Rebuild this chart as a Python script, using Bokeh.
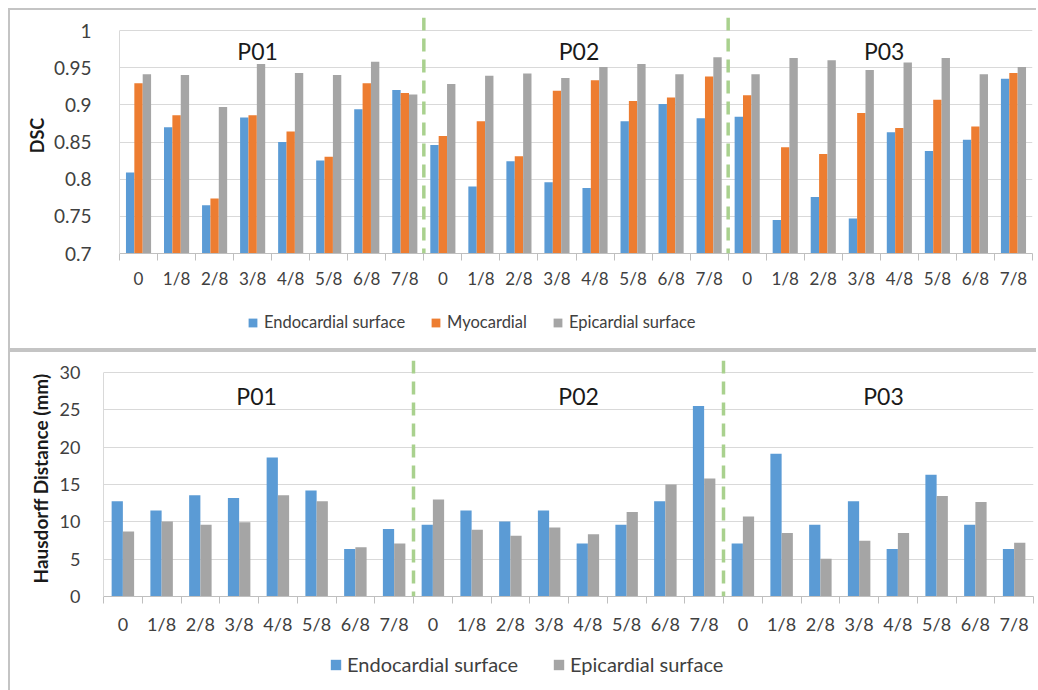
from bokeh.plotting import figure
from bokeh.models import Range1d, FixedTicker, Legend, LegendItem, Span
from bokeh.core.properties import value
from bokeh.embed import file_html
from bokeh.resources import INLINE

FONT = "Lato"
BLUE, ORANGE, GRAY = "#5B9BD5", "#ED7D31", "#A5A5A5"
SEP_GREEN = "#A9D18E"
TICK_TEXT = "#404040"
FRAME = "2px solid #C4C4C4"
WIDTH = 1028

patients = ["P01", "P02", "P03"]
fractions = ["0", "1/8", "2/8", "3/8", "4/8", "5/8", "6/8", "7/8"]

# Dice similarity coefficient, one value per patient/fraction (P01, P02, P03)
dsc_endo = [0.809, 0.870, 0.765, 0.883, 0.850, 0.825, 0.894, 0.920,
            0.846, 0.790, 0.824, 0.796, 0.788, 0.878, 0.901, 0.882,
            0.884, 0.745, 0.776, 0.747, 0.863, 0.838, 0.853, 0.935]
dsc_myo = [0.929, 0.886, 0.774, 0.886, 0.864, 0.830, 0.929, 0.916,
           0.858, 0.878, 0.831, 0.919, 0.933, 0.905, 0.910, 0.938,
           0.913, 0.843, 0.834, 0.889, 0.869, 0.907, 0.871, 0.943]
dsc_epi = [0.941, 0.940, 0.897, 0.955, 0.943, 0.940, 0.958, 0.914,
           0.928, 0.939, 0.942, 0.936, 0.951, 0.955, 0.941, 0.964,
           0.941, 0.963, 0.960, 0.947, 0.957, 0.963, 0.941, 0.951]

# Hausdorff distance in mm
hd_endo = [12.75, 11.5, 13.55, 13.2, 18.6, 14.2, 6.35, 9.05,
           9.6, 11.5, 10.05, 11.5, 7.1, 9.6, 12.75, 25.5,
           7.1, 19.1, 9.6, 12.75, 6.35, 16.3, 9.6, 6.35]
hd_epi = [8.7, 10.05, 9.6, 9.95, 13.55, 12.75, 6.6, 7.1,
          13.0, 8.95, 8.15, 9.25, 8.35, 11.3, 15.0, 15.8,
          10.7, 8.5, 5.05, 7.45, 8.5, 13.45, 12.65, 7.2]

dsc_ticks = [0.7, 0.75, 0.8, 0.85, 0.9, 0.95, 1.0]
hd_ticks = [0, 5, 10, 15, 20, 25, 30]

n_cat = len(patients) * len(fractions)
centers = [i + 0.5 for i in range(n_cat)]
cat_labels = fractions * len(patients)
boundaries = list(range(n_cat + 1))
separators = [len(fractions) * k for k in range(1, len(patients))]


def style(p, yticks, ylabels, xtick_size, ytick_size, xstand, ystand,
          title, title_size, title_stand):
    p.outline_line_color = None
    p.xgrid.visible = False
    p.ygrid.ticker = FixedTicker(ticks=yticks)
    p.ygrid.grid_line_color = "#D9D9D9"
    p.ygrid.grid_line_width = 1

    xa = p.xaxis[0]
    xa.ticker = FixedTicker(ticks=centers, minor_ticks=boundaries)
    xa.major_label_overrides = {c: l for c, l in zip(centers, cat_labels)}
    xa.major_tick_out = 0
    xa.major_tick_in = 0
    xa.minor_tick_out = 7
    xa.minor_tick_in = 0
    xa.minor_tick_line_color = "#BFBFBF"
    xa.axis_line_color = "#BFBFBF"
    xa.major_label_standoff = xstand
    xa.major_label_text_font = FONT
    xa.major_label_text_font_size = xtick_size
    xa.major_label_text_color = TICK_TEXT

    ya = p.yaxis[0]
    ya.ticker = FixedTicker(ticks=yticks)
    ya.major_label_overrides = {t: s for t, s in zip(yticks, ylabels)}
    ya.bounds = (yticks[0], yticks[-1])
    ya.major_tick_line_color = None
    ya.minor_tick_line_color = None
    ya.axis_line_color = "#D9D9D9"
    ya.major_label_standoff = ystand
    ya.major_label_text_font = FONT
    ya.major_label_text_font_size = ytick_size
    ya.major_label_text_color = TICK_TEXT
    ya.axis_label = title
    ya.axis_label_text_font = FONT
    ya.axis_label_text_font_size = title_size
    ya.axis_label_text_font_style = "bold"
    ya.axis_label_text_color = "#1A1A1A"
    ya.axis_label_standoff = title_stand

    for s in separators:
        p.add_layout(Span(location=s, dimension="height", line_color=SEP_GREEN,
                          line_width=3.5, line_dash="13 8"))


def legend_strip(height, series, x, bottom, font_size, glyph, spacing, standoff, styles):
    """A strip below a chart that carries only its horizontal legend."""
    s = figure(width=WIDTH, height=height, x_range=Range1d(0, WIDTH), y_range=Range1d(0, height),
               x_axis_type=None, y_axis_type=None, output_backend="svg",
               toolbar_location=None, min_border=0)
    s.outline_line_color = None
    s.grid.visible = False
    items = []
    for label, color in series:
        # zero-height proxy bar: only its legend swatch is seen
        r = s.vbar(x=[0], top=[0], bottom=[0], width=1, fill_color=color, line_color=None)
        items.append(LegendItem(label=label, renderers=[r]))
    s.add_layout(Legend(items=items, orientation="horizontal", location=(x, bottom),
                        padding=0, margin=0, spacing=spacing, label_standoff=standoff,
                        glyph_width=glyph, glyph_height=glyph, label_height=glyph,
                        border_line_color=None, background_fill_alpha=0,
                        label_text_font=FONT, label_text_font_size=font_size,
                        label_text_color=TICK_TEXT))
    s.margin = (0, 0, 0, 8)
    s.styles = styles
    return s


# ---------------- Dice coefficient panel ----------------
p1 = figure(width=WIDTH, height=290, x_range=Range1d(0, n_cat), y_range=Range1d(0.7, 1.0175),
            output_backend="svg", toolbar_location=None,
            min_border_left=109, min_border_right=6, min_border_top=7, min_border_bottom=47)
p1.margin = (8, 0, 0, 8)
p1.styles = {"border-top": FRAME, "border-left": FRAME}
style(p1, dsc_ticks, [f"{t:g}" for t in dsc_ticks], "17px", "19px", 7, 22, "DSC", "18px", 3)

bw1 = 0.22
p1.vbar(x=[c - bw1 for c in centers], top=dsc_endo, bottom=0.7, width=bw1,
        fill_color=BLUE, line_color=None)
p1.vbar(x=centers, top=dsc_myo, bottom=0.7, width=bw1, fill_color=ORANGE, line_color=None)
p1.vbar(x=[c + bw1 for c in centers], top=dsc_epi, bottom=0.7, width=bw1,
        fill_color=GRAY, line_color=None)

p1.text(x=[3.63, 12.08, 20.1], y=[0.973] * 3, text=patients, text_align="center",
        text_baseline="middle", text_font=value(FONT), text_font_size="23px",
        text_color="#1A1A1A")

leg1 = legend_strip(52, [("Endocardial surface", BLUE), ("Myocardial", ORANGE),
                         ("Epicardial surface", GRAY)],
                    237, 18, "16.5px", 11, 25, 6,
                    {"border-left": FRAME, "border-bottom": FRAME})

# ---------------- Hausdorff distance panel ----------------
p2 = figure(width=WIDTH, height=293, x_range=Range1d(0, n_cat), y_range=Range1d(0, 31.6),
            output_backend="svg", toolbar_location=None,
            min_border_left=93, min_border_right=5, min_border_top=8, min_border_bottom=49)
p2.margin = (0, 0, 0, 8)
p2.styles = {"border-top": FRAME, "border-left": FRAME}
style(p2, hd_ticks, [str(t) for t in hd_ticks], "18px", "18px", 9, 17,
      "Hausdorff Distance (mm)", "19px", 5)

bw2 = 0.29
p2.vbar(x=[c - bw2 / 2 for c in centers], top=hd_endo, width=bw2,
        fill_color=BLUE, line_color=None)
p2.vbar(x=[c + bw2 / 2 for c in centers], top=hd_epi, width=bw2,
        fill_color=GRAY, line_color=None)

p2.text(x=[3.95, 12.26, 20.13], y=[26.9] * 3, text=patients, text_align="center",
        text_baseline="middle", text_font=value(FONT), text_font_size="23px",
        text_color="#1A1A1A")

leg2 = legend_strip(47, [("Endocardial surface", BLUE), ("Epicardial surface", GRAY)],
                    319, 14, "20px", 13, 34, 5, {"border-left": FRAME})

# each block is its own root so the plot frames keep their own left edges
open("out.html", "w").write(file_html([p1, leg1, p2, leg2], INLINE))
